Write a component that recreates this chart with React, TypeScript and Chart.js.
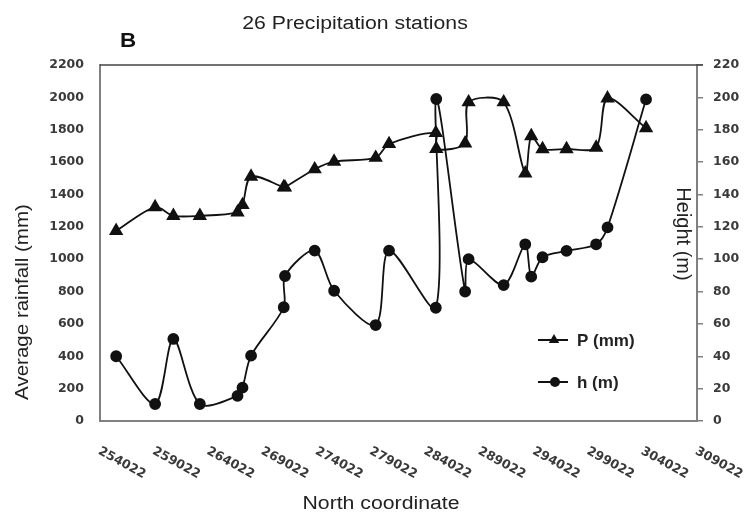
import React, { useEffect, useRef } from "react";
import { Chart, registerables } from "chart.js";
Chart.register(...registerables);

// North coordinate of each station (x values)
const STATIONS = [255510, 259100, 260780, 263220, 266690, 267150, 267940, 270950, 271065, 273800, 275590, 279420, 280650, 284960, 285000, 287660, 287980, 291210, 293200, 293750, 294790, 297000, 299730, 300780, 304330];
// Average rainfall P (mm)
const P_MM = [1175, 1322, 1268, 1268, 1290, 1335, 1510, 1445, 1444, 1556, 1603, 1627, 1712, 1780, 1682, 1716, 1970, 1970, 1531, 1761, 1681, 1681, 1690, 1994, 1810];
// Height h (m)
const H_M = [40, 10.5, 50.7, 10.5, 15.5, 20.6, 40.4, 70.3, 89.6, 105.3, 80.5, 59.3, 105.3, 70, 199, 80, 100, 84, 109.2, 89.2, 101.2, 105.1, 109.2, 119.7, 198.8];
// Tick labels
const X_TICKS = [254022, 259022, 264022, 269022, 274022, 279022, 284022, 289022, 294022, 299022, 304022, 309022];
const LEFT_MAX = 2200;
const LEFT_STEP = 200;
const RIGHT_MAX = 220;
const RIGHT_STEP = 20;

const TITLE = "26 Precipitation stations";
const PANEL = "B";
const X_TITLE = "North coordinate";
const Y_TITLE = "Average rainfall (mm)";
const Y2_TITLE = "Height (m)";
const SERIES_LABELS = ["P (mm)", "h (m)"];

function txt(ctx: CanvasRenderingContext2D, s: string, x: number, y: number, font: string, align: CanvasTextAlign, baseline: CanvasTextBaseline, rot = 0, sx = 1, color = "#222") {
  ctx.save();
  ctx.translate(x, y);
  if (rot) ctx.rotate(rot);
  ctx.scale(sx, 1);
  ctx.font = font;
  ctx.textAlign = align;
  ctx.textBaseline = baseline;
  ctx.fillStyle = color;
  ctx.fillText(s, 0, 0);
  ctx.restore();
}

const decor = {
  id: "decor",
  afterDraw(chart: any) {
    const ctx: CanvasRenderingContext2D = chart.ctx;
    const a = chart.chartArea;
    // top frame line
    ctx.save();
    ctx.strokeStyle = "#444";
    ctx.lineWidth = 1.5;
    ctx.beginPath();
    ctx.moveTo(a.left, a.top);
    ctx.lineTo(a.right + 6, a.top);
    ctx.stroke();
    ctx.restore();

    // x tick labels, rotated clockwise
    const xs = chart.scales.x;
    X_TICKS.forEach((v) => {
      const px = xs.getPixelForValue(v);
      txt(ctx, String(v), px + 2, a.bottom + 24, 'bold 12.5px "DejaVu Sans"', "left", "top", 0.5, 1, "#3a3a3a");
    });

    txt(ctx, TITLE, 355, 29, '18px "Liberation Sans"', "center", "alphabetic", 0, 1.18, "#222");
    txt(ctx, PANEL, 120, 47, 'bold 20px "Liberation Sans"', "left", "alphabetic", 0, 1.12, "#111");
    txt(ctx, X_TITLE, 381, 509, '18px "Liberation Sans"', "center", "alphabetic", 0, 1.18, "#222");
    txt(ctx, Y_TITLE, 28, 302, '19px "Liberation Sans"', "center", "alphabetic", -Math.PI / 2, 1.08, "#222");
    txt(ctx, Y2_TITLE, 677, 234, '20px "Liberation Sans"', "center", "alphabetic", Math.PI / 2, 1, "#222");

    // legend
    const rows = [340, 382];
    chart.data.datasets.forEach((ds: any, i: number) => {
      const y = rows[i];
      ctx.save();
      ctx.strokeStyle = ds.borderColor;
      ctx.fillStyle = ds.borderColor;
      ctx.lineWidth = 2;
      ctx.beginPath();
      ctx.moveTo(538, y);
      ctx.lineTo(568, y);
      ctx.stroke();
      const cx = 554;
      ctx.beginPath();
      if (ds.pointStyle === "triangle") {
        const r = 6;
        ctx.moveTo(cx, y - r);
        ctx.lineTo(cx + r * 0.866, y + r * 0.5);
        ctx.lineTo(cx - r * 0.866, y + r * 0.5);
        ctx.closePath();
      } else {
        ctx.arc(cx + 1, y, 5, 0, Math.PI * 2);
      }
      ctx.fill();
      ctx.restore();
      txt(ctx, ds.label, 577, y + 6, 'bold 17px "Liberation Sans"', "left", "alphabetic", 0, 1, "#222");
    });
  },
};

export default function App() {
  const ref = useRef<HTMLCanvasElement>(null);
  useEffect(() => {
    const c = ref.current!;
    const tickFont = { family: "DejaVu Sans", size: 12.5, weight: "bold" };
    const chart = new Chart(c, {
      type: "line",
      data: {
        datasets: [
          {
            label: SERIES_LABELS[0],
            data: STATIONS.map((x, i) => ({ x, y: P_MM[i] })),
            yAxisID: "y",
            borderColor: "#111",
            backgroundColor: "#111",
            borderWidth: 1.8,
            pointStyle: "triangle",
            pointRadius: 6.5,
            pointBackgroundColor: "#111",
            pointBorderColor: "#111",
            tension: 0.3,
          },
          {
            label: SERIES_LABELS[1],
            data: STATIONS.map((x, i) => ({ x, y: H_M[i] })),
            yAxisID: "y1",
            borderColor: "#111",
            backgroundColor: "#111",
            borderWidth: 1.8,
            pointStyle: "circle",
            pointRadius: 5,
            pointBackgroundColor: "#111",
            pointBorderColor: "#111",
            tension: 0.3,
          },
        ],
      },
      options: {
        responsive: false,
        animation: false,
        devicePixelRatio: 1,
        layout: { padding: { top: 65, left: 0, right: 0, bottom: 0 } },
        plugins: { legend: { display: false }, tooltip: { enabled: false }, title: { display: false } },
        scales: {
          x: {
            type: "linear",
            min: X_TICKS[0],
            max: X_TICKS[X_TICKS.length - 1],
            ticks: { display: false, stepSize: 5000 },
            grid: { drawOnChartArea: false, drawTicks: false },
            border: { display: true, color: "#808080", width: 2 },
            afterFit: (s: any) => { s.height = 93; },
          },
          y: {
            position: "left",
            min: 0,
            max: LEFT_MAX,
            ticks: { stepSize: LEFT_STEP, padding: 16, color: "#3a3a3a", font: tickFont, callback: (v: any) => String(v) },
            grid: { drawOnChartArea: false, drawTicks: false },
            border: { display: true, color: "#808080", width: 2 },
            afterFit: (s: any) => { s.width = 100; },
          },
          y1: {
            position: "right",
            min: 0,
            max: RIGHT_MAX,
            ticks: { stepSize: RIGHT_STEP, padding: 10, color: "#3a3a3a", font: tickFont, callback: (v: any) => String(v) },
            grid: { drawOnChartArea: false, drawTicks: true, tickLength: 6, color: "#808080", lineWidth: 1.5 },
            border: { display: true, color: "#808080", width: 2 },
            afterFit: (s: any) => { s.width = 52; },
          },
        },
      },
      plugins: [decor],
    } as any);
    return () => chart.destroy();
  }, []);
  return (
    <div style={{ position: "absolute", left: 0, top: 0, width: 749, height: 514, background: "#fff" }}>
      <canvas ref={ref} width={749} height={514} style={{ display: "block" }} />
    </div>
  );
}
